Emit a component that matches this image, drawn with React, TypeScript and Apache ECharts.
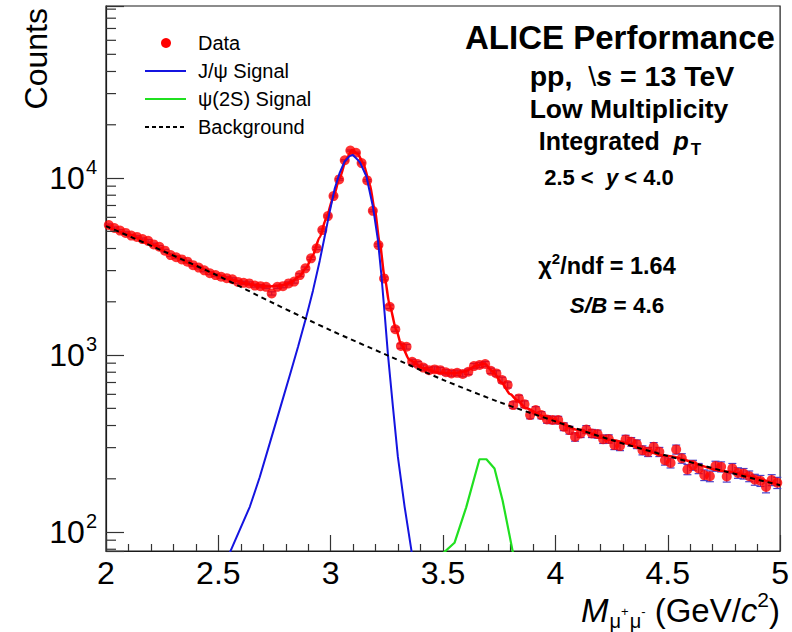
import React, { useEffect, useRef } from "react";
import * as echarts from "echarts";

const FONT = '"Liberation Sans", Arimo, Helvetica, Arial, sans-serif';

// Dimuon invariant mass histogram, 0.025 GeV/c^2 bins from 2.0 to 5.0
const binLow = 2.0;
const binWidth = 0.025;
const counts: number[] = [
  5430, 5220, 5050, 4900, 4730, 4650, 4520, 4420, 4220, 4090,
  3890, 3670, 3570, 3470, 3370, 3220, 3120, 3010, 2900, 2830,
  2770, 2720, 2680, 2590, 2560, 2540, 2470, 2450, 2430, 2230,
  2430, 2450, 2540, 2600, 2830, 3090, 3520, 4010, 5080, 6100,
  7910, 9830, 12600, 14300, 13900, 12150, 9700, 6530, 4180, 2710,
  1875, 1400, 1125, 1115, 916, 889, 850, 822, 830, 822,
  800, 788, 794, 782, 805, 867, 879, 890, 815, 788,
  723, 678, 522, 569, 528, 458, 489, 458, 433, 430,
  430, 394, 377, 345, 361, 380, 361, 358, 335, 336,
  310, 306, 334, 324, 314, 290, 284, 303, 284, 255,
  246, 293, 261, 226, 239, 229, 210, 207, 236, 234,
  206, 229, 216, 214, 207, 198, 195, 180, 197, 190,
];
const massCenters: number[] = counts.map((_, i) => +(binLow + binWidth * (i + 0.5)).toFixed(4));

// Fit components [mass, counts]
const jpsiSignal: [number, number][] = [
  [2.52, 62], [2.554, 78], [2.64, 139], [2.684, 204], [2.729, 318], [2.773, 492],
  [2.818, 769], [2.855, 1119], [2.892, 1656], [2.921, 2312], [2.951, 3404],
  [2.973, 4656], [2.996, 6501], [3.018, 8730], [3.04, 10700], [3.062, 12400],
  [3.084, 13300], [3.099, 13500], [3.13, 12300], [3.159, 10200], [3.188, 6890],
  [3.21, 4470], [3.225, 2880], [3.24, 1720], [3.255, 1000], [3.277, 510],
  [3.299, 266], [3.329, 139], [3.359, 79], [3.38, 56],
];
const psi2sSignal: [number, number][] = [
  [3.45, 66], [3.49, 74], [3.551, 87], [3.603, 138], [3.662, 258], [3.693, 258],
  [3.729, 229], [3.765, 151], [3.809, 79], [3.83, 55],
];
const background: [number, number][] = [
  [2.0, 5350], [2.25, 3890], [2.5, 2800], [2.75, 1950], [3.0, 1380], [3.25, 1000],
  [3.5, 725], [3.75, 543], [4.0, 422], [4.25, 331], [4.5, 269], [4.75, 221], [5.0, 184],
];
const totalFit: [number, number][] = [
  [2.0, 5400], [2.1, 4800], [2.2, 4220], [2.3, 3650], [2.4, 3180], [2.5, 2820],
  [2.56, 2660], [2.62, 2540], [2.68, 2460], [2.73, 2440], [2.78, 2470], [2.82, 2560],
  [2.86, 2780], [2.89, 3100], [2.92, 3650], [2.95, 4600], [2.98, 5900], [3.01, 7700],
  [3.04, 10000], [3.07, 12900], [3.095, 14400], [3.12, 13700], [3.145, 12100],
  [3.173, 9330], [3.196, 6600], [3.218, 4300], [3.24, 2760], [3.262, 1920],
  [3.292, 1385], [3.314, 1140], [3.351, 937], [3.41, 845], [3.48, 795], [3.55, 790],
  [3.6, 810], [3.647, 870], [3.684, 895], [3.721, 810], [3.759, 703], [3.8, 600],
  [3.83, 555], [3.87, 500], [3.95, 450], [4.1, 378], [4.25, 331], [4.5, 269],
  [4.75, 221], [5.0, 184],
];

// Axis settings
const xMin = 2;
const xMax = 5;
const xInterval = 0.5;
const yMin = 78.2;
const yMax = 93750;
const yMinorTicks: number[] = [
  80, 90, 200, 300, 400, 500, 600, 700, 800, 900,
  2000, 3000, 4000, 5000, 6000, 7000, 8000, 9000,
  20000, 30000, 40000, 50000, 60000, 70000, 80000, 90000,
];

const AXIS_COLOR = "#1a1a1a";

export default function App() {
  const ref = useRef<HTMLDivElement>(null);
  useEffect(() => {
    document.body.style.margin = "0";
    const chart = echarts.init(ref.current as HTMLDivElement, null, { renderer: "svg" });

    const errData = counts.map((n, i) => [massCenters[i], n - Math.sqrt(n), n + Math.sqrt(n)]);

    const option: any = {
      animation: false,
      backgroundColor: "#ffffff",
      textStyle: { fontFamily: FONT },
      grid: {
        left: 106, right: 11, top: 6, bottom: 81,
        show: true, borderColor: AXIS_COLOR, borderWidth: 1.2, backgroundColor: "transparent",
      },
      xAxis: {
        type: "value", min: xMin, max: xMax, interval: xInterval,
        axisLine: { show: true, onZero: false, lineStyle: { color: AXIS_COLOR, width: 1.2 } },
        axisTick: { show: true, inside: true, length: 16, lineStyle: { color: "#333", width: 1.2 } },
        minorTick: { show: true, splitNumber: 5, length: 7, lineStyle: { color: "#333", width: 1.2 } },
        splitLine: { show: false },
        axisLabel: { color: "#000", fontSize: 32, lineHeight: 26, fontFamily: FONT, margin: 9 },
      },
      yAxis: {
        type: "log", logBase: 10, min: yMin, max: yMax,
        axisLine: { show: true, lineStyle: { color: AXIS_COLOR, width: 1.2 } },
        axisTick: { show: true, inside: true, length: 18, lineStyle: { color: "#333", width: 1.2 } },
        minorTick: { show: false },
        splitLine: { show: false },
        axisLabel: {
          margin: 9,
          formatter: (v: number) => {
            const l = Math.log10(v);
            if (Math.abs(l - Math.round(l)) > 1e-3) return "";
            return `{b|10}{s|${Math.round(l)}}`;
          },
          rich: {
            b: { fontSize: 32, fontFamily: FONT, color: "#000" },
            s: { fontSize: 20, fontFamily: FONT, color: "#000", padding: [0, 0, 22, 1] },
          },
        },
      },
      series: [
        {
          name: "yMinorTicks", type: "custom", silent: true, z: 10,
          data: yMinorTicks.map((v) => [xMin, v]),
          renderItem: (params: any, api: any) => {
            const p = api.coord([api.value(0), api.value(1)]);
            return {
              type: "line",
              shape: { x1: p[0], y1: p[1], x2: p[0] + 10, y2: p[1] },
              style: { stroke: "#333", lineWidth: 1.2 },
            };
          },
        },
        {
          name: "errors", type: "custom", silent: true, z: 2,
          data: errData,
          renderItem: (params: any, api: any) => {
            const x = api.value(0);
            const lo = api.coord([x, api.value(1)]);
            const hi = api.coord([x, api.value(2)]);
            const st = { stroke: "#4a3fc8", lineWidth: 1.2 };
            return {
              type: "group",
              children: [
                { type: "line", shape: { x1: lo[0], y1: lo[1], x2: hi[0], y2: hi[1] }, style: st },
                { type: "line", shape: { x1: lo[0] - 4, y1: lo[1], x2: lo[0] + 4, y2: lo[1] }, style: st },
                { type: "line", shape: { x1: hi[0] - 4, y1: hi[1], x2: hi[0] + 4, y2: hi[1] }, style: st },
              ],
            };
          },
        },
        {
          name: "Data", type: "scatter", z: 3,
          data: counts.map((n, i) => [massCenters[i], n]),
          symbol: "circle", symbolSize: 10,
          itemStyle: { color: "#ff0000" },
        },
        {
          name: "Total fit", type: "line", z: 4, data: totalFit, showSymbol: false,
          smooth: 0.25, smoothMonotone: "x",
          lineStyle: { color: "#ff0000", width: 2.5 },
        },
        {
          name: "J/psi Signal", type: "line", z: 5, data: jpsiSignal, showSymbol: false,
          smooth: false,
          lineStyle: { color: "#1414e0", width: 2 },
        },
        {
          name: "psi(2S) Signal", type: "line", z: 5, data: psi2sSignal, showSymbol: false,
          lineStyle: { color: "#20e020", width: 2.2 },
        },
        {
          name: "Background", type: "line", z: 6, data: background, showSymbol: false,
          smooth: 0.3,
          lineStyle: { color: "#000", width: 2, type: [5, 4] },
        },
      ],
      graphic: [
        // Y axis title
        {
          type: "text", x: 36, y: 8, rotation: Math.PI / 2,
          style: { text: "Counts", fontSize: 32, fontFamily: FONT, fill: "#000", align: "right", verticalAlign: "middle" },
        },
        // X axis title
        {
          type: "text", x: 780, y: 610,
          style: {
            text: "{i|M}{sub|μ}{subs|+}{sub|μ}{subs|-}{r| (GeV/}{i|c}{sup|2}{r|)}",
            align: "right", verticalAlign: "middle",
            rich: {
              i: { fontSize: 33, lineHeight: 28, fontFamily: FONT, fontStyle: "italic", color: "#000" },
              r: { fontSize: 33, lineHeight: 28, fontFamily: FONT, color: "#000" },
              sub: { fontSize: 20, lineHeight: 28, fontFamily: FONT, color: "#000", padding: [21, 0, 0, 1] },
              subs: { fontSize: 13, lineHeight: 28, fontFamily: FONT, color: "#000", padding: [3, 0, 0, 0] },
              sup: { fontSize: 21, lineHeight: 28, fontFamily: FONT, color: "#000", padding: [0, 0, 22, 0] },
            },
          },
        },
        // Legend
        { type: "circle", shape: { cx: 166, cy: 43, r: 5 }, style: { fill: "#ff0000" } },
        { type: "text", x: 198, y: 43, style: { text: "Data", fontSize: 20, fontFamily: FONT, fill: "#000", verticalAlign: "middle" } },
        { type: "line", shape: { x1: 145, y1: 71, x2: 186, y2: 71 }, style: { stroke: "#1414e0", lineWidth: 2 } },
        { type: "text", x: 198, y: 71, style: { text: "J/ψ Signal", fontSize: 20, fontFamily: FONT, fill: "#000", verticalAlign: "middle" } },
        { type: "line", shape: { x1: 145, y1: 99, x2: 186, y2: 99 }, style: { stroke: "#20e020", lineWidth: 2 } },
        { type: "text", x: 198, y: 99, style: { text: "ψ(2S) Signal", fontSize: 20, fontFamily: FONT, fill: "#000", verticalAlign: "middle" } },
        { type: "line", shape: { x1: 145, y1: 127, x2: 186, y2: 127 }, style: { stroke: "#000", lineWidth: 2, lineDash: [4, 3] } },
        { type: "text", x: 198, y: 127, style: { text: "Background", fontSize: 20, fontFamily: FONT, fill: "#000", verticalAlign: "middle" } },
        // Annotations
        {
          type: "text", x: 620, y: 37,
          style: { text: "ALICE Performance", fontSize: 33, fontWeight: "bold", fontFamily: FONT, fill: "#000", align: "center", verticalAlign: "middle" },
        },
        {
          type: "text", x: 632, y: 76,
          style: {
            text: "{b|pp,  }{r|\\}{bi|s}{b| = 13 TeV}", align: "center", verticalAlign: "middle",
            rich: {
              b: { fontSize: 28.5, fontWeight: "bold", fontFamily: FONT, color: "#000" },
              r: { fontSize: 28.5, fontFamily: FONT, color: "#000" },
              bi: { fontSize: 28.5, fontWeight: "bold", fontStyle: "italic", fontFamily: FONT, color: "#000" },
            },
          },
        },
        {
          type: "text", x: 629, y: 109,
          style: { text: "Low Multiplicity", fontSize: 26.5, fontWeight: "bold", fontFamily: FONT, fill: "#000", align: "center", verticalAlign: "middle" },
        },
        {
          type: "text", x: 620, y: 141,
          style: {
            text: "{b|Integrated  }{bi|p}{sub|T}", align: "center", verticalAlign: "middle",
            rich: {
              b: { fontSize: 25, fontWeight: "bold", fontFamily: FONT, color: "#000" },
              bi: { fontSize: 25, fontWeight: "bold", fontStyle: "italic", fontFamily: FONT, color: "#000" },
              sub: { fontSize: 17, fontWeight: "bold", fontFamily: FONT, color: "#000", padding: [16, 0, 0, 2] },
            },
          },
        },
        {
          type: "text", x: 609, y: 177,
          style: {
            text: "{b|2.5 <  }{bi|y}{b| < 4.0}", align: "center", verticalAlign: "middle",
            rich: {
              b: { fontSize: 22, fontWeight: "bold", fontFamily: FONT, color: "#000" },
              bi: { fontSize: 22, fontWeight: "bold", fontStyle: "italic", fontFamily: FONT, color: "#000" },
            },
          },
        },
        {
          type: "text", x: 607, y: 266,
          style: {
            text: "{b|χ}{sup|2}{b|/ndf = 1.64}", align: "center", verticalAlign: "middle",
            rich: {
              b: { fontSize: 23.5, fontWeight: "bold", fontFamily: FONT, color: "#000" },
              sup: { fontSize: 15, fontWeight: "bold", fontFamily: FONT, color: "#000", padding: [0, 0, 15, 0] },
            },
          },
        },
        {
          type: "text", x: 617, y: 305,
          style: {
            text: "{bi|S/B}{b| = 4.6}", align: "center", verticalAlign: "middle",
            rich: {
              b: { fontSize: 22.5, fontWeight: "bold", fontFamily: FONT, color: "#000" },
              bi: { fontSize: 22.5, fontWeight: "bold", fontStyle: "italic", fontFamily: FONT, color: "#000" },
            },
          },
        },
      ],
    };

    chart.setOption(option);
    return () => chart.dispose();
  }, []);

  return <div ref={ref} style={{ width: 792, height: 632, background: "#fff" }} />;
}
